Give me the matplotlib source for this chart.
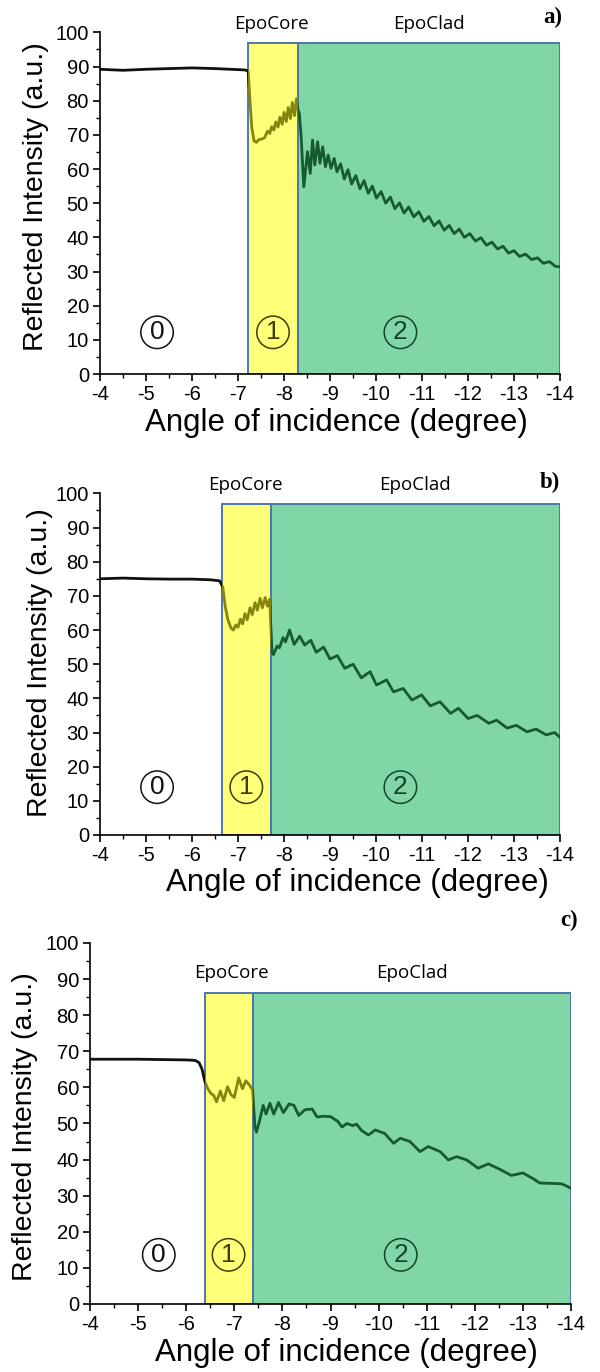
import matplotlib.pyplot as plt
from matplotlib.patches import Rectangle
from matplotlib.ticker import MultipleLocator

plt.rcParams["font.family"] = ["Liberation Sans", "DejaVu Sans"]
plt.rcParams["axes.unicode_minus"] = False

# ---- panel a ----
a_angle = [-4.0, -4.5, -5.0, -5.5, -6.0, -6.5, -7.0, -7.15, -7.22,
           -7.26, -7.30, -7.35, -7.40, -7.45, -7.52, -7.58,
           -7.64, -7.69, -7.73, -7.78, -7.82, -7.87, -7.91, -7.96, -8.00,
           -8.05, -8.09, -8.14, -8.18, -8.23, -8.27, -8.31,
           -8.33, -8.37, -8.43, -8.51, -8.57, -8.62, -8.67, -8.73, -8.78,
           -8.84, -8.90, -8.96, -9.02, -9.09, -9.15,
           -9.23, -9.31, -9.39, -9.47, -9.56, -9.65, -9.74, -9.83, -9.92,
           -10.01, -10.11, -10.21, -10.31, -10.41, -10.51, -10.61, -10.71,
           -10.82, -10.93, -11.04, -11.15, -11.26, -11.37, -11.48, -11.59,
           -11.70, -11.81, -11.92, -12.04, -12.16, -12.28, -12.40, -12.52,
           -12.64, -12.76, -12.88, -13.00, -13.12, -13.25, -13.38, -13.51,
           -13.64, -13.77, -13.90, -14.0]
a_intensity = [89.2, 88.9, 89.2, 89.4, 89.6, 89.4, 89.1, 89.0, 88.7,
               80.0, 72.0, 68.2, 67.8, 68.6, 68.8, 69.2,
               71.1, 70.4, 72.4, 71.4, 73.8, 72.3, 75.2, 73.1, 76.6,
               73.9, 78.0, 74.8, 79.5, 75.6, 80.6, 77.0,
               76.5, 70.0, 54.8, 65.1, 58.7, 68.5, 61.2, 68.0, 61.7,
               66.5, 60.7, 64.1, 60.2, 63.1, 59.2,
               61.5, 57.1, 59.8, 55.6, 58.1, 54.2, 56.6, 52.9, 55.0,
               51.5, 53.4, 50.0, 51.8, 48.4, 50.1, 47.1, 48.9,
               46.0, 47.5, 44.7, 46.1, 43.4, 44.8, 42.1, 43.5,
               41.1, 42.4, 40.0, 41.1, 38.9, 39.9, 37.7, 38.6,
               36.6, 37.4, 35.4, 36.1, 34.4, 35.1, 33.5, 34.0,
               32.4, 32.9, 31.5, 31.4]

# ---- panel b ----
b_angle = [-4.0, -4.5, -5.0, -5.5, -6.0, -6.4, -6.6,
           -6.67, -6.72, -6.78, -6.85, -6.90, -6.95, -7.00, -7.05, -7.10,
           -7.15, -7.20, -7.26, -7.31, -7.37, -7.42, -7.48, -7.53, -7.59,
           -7.64, -7.69,
           -7.71, -7.74, -7.77, -7.85, -7.90, -7.98, -8.03, -8.12, -8.22,
           -8.34, -8.45, -8.58, -8.70, -8.86, -9.00, -9.16, -9.32, -9.50,
           -9.68, -9.87, -10.01, -10.23, -10.38, -10.59, -10.78, -10.99,
           -11.18, -11.39, -11.62, -11.79, -12.00, -12.20, -12.45, -12.62,
           -12.85, -13.05, -13.28, -13.48, -13.70, -13.88, -14.0]
b_intensity = [75.0, 75.2, 75.0, 74.9, 74.9, 74.7, 74.4,
               72.5, 67.0, 63.0, 60.5, 60.0, 61.5, 60.8, 63.2, 61.8,
               64.8, 63.0, 66.5, 64.5, 68.0, 65.8, 69.3, 66.5, 69.5,
               67.0, 69.0,
               62.0, 53.5, 52.8, 55.3, 54.8, 57.8, 56.5, 60.0, 55.8,
               58.2, 55.6, 57.0, 53.5, 55.0, 51.5, 52.5, 48.8, 50.0,
               46.0, 47.8, 43.9, 45.4, 41.9, 42.9, 39.5, 41.0,
               37.8, 39.0, 35.6, 37.1, 34.1, 35.0, 32.7, 33.6,
               31.3, 32.1, 30.2, 31.0, 29.3, 30.0, 28.6]

# ---- panel c ----
c_angle = [-4.0, -4.5, -5.0, -5.5, -6.0, -6.15, -6.20, -6.27, -6.33,
           -6.39, -6.45, -6.52, -6.57, -6.63, -6.71, -6.78, -6.86, -6.93,
           -7.00, -7.09, -7.17, -7.24, -7.32, -7.38,
           -7.40, -7.43, -7.46, -7.52, -7.60, -7.66, -7.74, -7.82, -7.92,
           -8.02, -8.14, -8.24, -8.34, -8.47, -8.62, -8.72, -8.85, -9.00,
           -9.15, -9.24, -9.34, -9.46, -9.54, -9.65, -9.79, -9.93, -10.13,
           -10.31, -10.45, -10.65, -10.86, -11.03, -11.28, -11.45, -11.62,
           -11.83, -12.07, -12.28, -12.52, -12.76, -13.00, -13.20, -13.35,
           -13.60, -13.80, -13.92, -14.0]
c_intensity = [67.8, 67.8, 67.8, 67.7, 67.6, 67.5, 67.4, 66.8, 65.0,
               61.5, 59.6, 58.2, 57.8, 56.0, 59.0, 56.3, 60.2, 58.0,
               57.2, 62.6, 59.6, 61.8, 60.6, 59.3,
               55.0, 49.0, 47.6, 50.5, 55.0, 52.6, 55.6, 52.6, 55.8,
               53.0, 55.4, 55.0, 52.2, 53.8, 54.0, 51.8, 52.0, 51.9,
               50.6, 49.0, 50.0, 49.4, 49.8, 48.0, 46.8, 48.2, 47.2,
               44.5, 45.9, 45.0, 42.2, 43.6, 42.2, 39.9, 40.8,
               39.9, 37.6, 38.8, 37.3, 35.6, 36.3, 34.8, 33.5,
               33.4, 33.3, 32.6, 32.0]

# layer boundaries (degree): start of EpoCore, start of EpoClad
a_layers = [-7.22, -8.31]
b_layers = [-6.65, -7.71]
c_layers = [-6.39, -7.38]

YELLOW = "#ffff78"
GREEN = "#80d6a6"
EDGE = "#4f77a8"
CORE_LINE = "#858510"
CLAD_LINE = "#175a2e"


def draw_panel(ax, angle, intensity, layers, box_top, circle_pos, core_text, clad_text,
               xlabel_pos, ylabel_pos):
    ax.set_xlim(-4, -14)
    ax.set_ylim(0, 100)

    core = Rectangle((layers[0], 0), layers[1] - layers[0], box_top,
                     facecolor=YELLOW, edgecolor=EDGE, lw=1.4, zorder=1)
    clad = Rectangle((layers[1], 0), -14 - layers[1], box_top,
                     facecolor=GREEN, edgecolor=EDGE, lw=1.4, zorder=1)
    ax.add_patch(core)
    ax.add_patch(clad)
    air = Rectangle((-4, 0), layers[0] + 4, 100, transform=ax.transData)

    # same trace three times, each one clipped to its own layer
    for color, clip in [("#111111", air), (CORE_LINE, core), (CLAD_LINE, clad)]:
        line, = ax.plot(angle, intensity, color=color, lw=2.0, zorder=3,
                        solid_joinstyle="round")
        line.set_clip_path(clip)

    for (x, y), label, color in zip(circle_pos, ["0", "1", "2"],
                                    ["#111111", "#3d3d05", "#14432a"]):
        ax.text(x, y, label, ha="center", va="center", fontsize=19, color=color,
                zorder=4, bbox=dict(boxstyle="circle,pad=0.16", fc="none",
                                    ec=color, lw=1.1))

    ax.text(*core_text, "EpoCore", ha="center", va="center", fontsize=13.5,
            family="Open Sans", clip_on=False)
    ax.text(*clad_text, "EpoClad", ha="center", va="center", fontsize=13.5,
            family="Open Sans", clip_on=False)

    ax.spines[["top", "right"]].set_visible(False)
    for side in ["left", "bottom"]:
        ax.spines[side].set_linewidth(1.2)
        ax.spines[side].set_zorder(5)
    ax.xaxis.set_major_locator(MultipleLocator(1))
    ax.xaxis.set_minor_locator(MultipleLocator(0.5))
    ax.yaxis.set_major_locator(MultipleLocator(10))
    ax.yaxis.set_minor_locator(MultipleLocator(5))
    ax.tick_params(which="major", direction="out", length=5, width=1.2,
                   labelsize=14.5, pad=3)
    ax.tick_params(which="minor", direction="out", length=3, width=1.0)

    ax.set_xlabel("Angle of incidence (degree)", fontsize=22.5)
    ax.set_ylabel("Reflected Intensity (a.u.)", fontsize=20.5)
    ax.xaxis.label.set_va("center")
    ax.yaxis.label.set_va("center")
    ax.xaxis.set_label_coords(*xlabel_pos)
    ax.yaxis.set_label_coords(*ylabel_pos)


fig = plt.figure(figsize=(6, 13.72), dpi=100)
ax_a = fig.add_axes([0.1667, 0.7274, 0.7667, 0.2490])
ax_b = fig.add_axes([0.1667, 0.3914, 0.7667, 0.2490])
ax_c = fig.add_axes([0.1500, 0.0496, 0.8017, 0.2631])

draw_panel(ax_a, a_angle, a_intensity, a_layers, 96.8,
           [(-5.24, 12.2), (-7.76, 12.2), (-10.53, 12.2)],
           (-7.73, 102.4), (-11.16, 102.4), (0.515, -0.143), (-0.139, 0.518))
draw_panel(ax_b, b_angle, b_intensity, b_layers, 96.8,
           [(-5.24, 14.0), (-7.18, 14.0), (-10.53, 14.0)],
           (-7.17, 102.4), (-10.85, 102.4), (0.56, -0.14), (-0.13, 0.506))
draw_panel(ax_c, c_angle, c_intensity, c_layers, 86.2,
           [(-5.43, 13.6), (-6.88, 13.6), (-10.46, 13.6)],
           (-6.93, 91.7), (-10.70, 91.7), (0.533, -0.136), (-0.136, 0.49))

for letter, x, y in [("a)", 0.922, 0.9876), ("b)", 0.917, 0.6487), ("c)", 0.948, 0.3294)]:
    fig.text(x, y, letter, ha="center", va="center", fontsize=16.5, fontweight="bold",
             family="Liberation Serif")

fig.savefig("out.png", dpi=100)
